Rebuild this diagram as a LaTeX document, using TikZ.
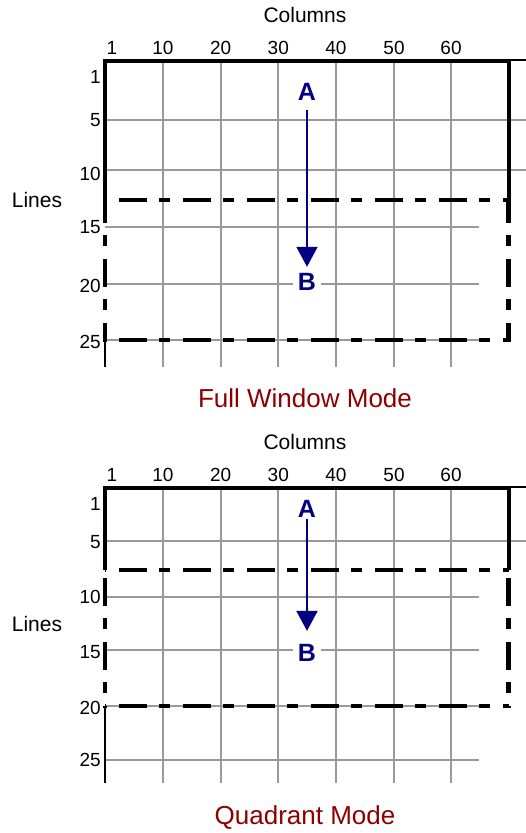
\documentclass[tikz,border=0pt]{standalone}
\usepackage{fontspec}
\setmainfont{Liberation Sans}
\usetikzlibrary{arrows.meta}
\definecolor{gridgray}{RGB}{153,153,153}
\definecolor{navyblue}{RGB}{0,0,128}
\definecolor{titlered}{RGB}{140,0,0}
\begin{document}
\begin{tikzpicture}[x=1pt,y=-1pt,
  gridline/.style={draw=gridgray,line width=2pt},
  winline/.style={draw=black,line width=4pt,line join=miter},
  extline/.style={draw=black,line width=2pt},
  dashline/.style={draw=black,line width=4.5pt,dash pattern=on 28pt off 12pt on 11pt off 13pt},
  axisline/.style={draw=black,line width=2pt},
  numlbl/.style={inner sep=0pt,font=\fontsize{19}{19}\selectfont},
  wordlbl/.style={inner sep=0pt,anchor=base,font=\fontsize{21}{21}\selectfont},
  titlelbl/.style={inner sep=0pt,text=titlered,anchor=base,font=\fontsize{26}{26}\selectfont},
  ptlbl/.style={inner xsep=5pt,inner ysep=0pt,fill=white,text=navyblue,anchor=base,
    text height=18.3pt,text depth=0pt,font=\fontsize{25}{25}\selectfont\bfseries},
  arr/.style={draw=navyblue,line width=2pt,-{Triangle[length=20pt,width=21pt]}}
]
\useasboundingbox (0,0) rectangle (526,833);

% ================= TOP PANEL =================
\foreach \x in {163,220.7,278.3,336,394,451} \draw[gridline] (\x,61) -- (\x,367);
\foreach \y in {120,170} \draw[gridline] (105,\y) -- (526,\y);
\foreach \y in {227,284,340} \draw[gridline] (105,\y) -- (479,\y);
\draw[winline] (105,200) -- (105,61) -- (508.5,61) -- (508.5,200);
\draw[extline] (508.5,60) -- (526,60);
\draw[dashline,dash phase=50pt] (105,200) -- (508.5,200);
\draw[dashline,dash phase=50pt] (105,340) -- (508.5,340);
\draw[dashline,dash phase=5pt] (105,200) -- (105,342);
\draw[dashline,dash phase=5pt] (508.5,200) -- (508.5,342);
\draw[axisline] (105,340) -- (105,367);

\node[wordlbl] (colsT) at (305,22.7) {Columns};
\foreach \x/\t [count=\i] in {112/1,163/10,220.7/20,278.3/30,336/40,394/50,451/60}
  \node[numlbl,anchor=base] (cT\i) at (\x,54) {\t};
\foreach \y/\t [count=\i] in {83.3/1,126/5,180/10,233/15,292/20,348/25}
  \node[numlbl,anchor=base east] (rT\i) at (101,\y) {\t};
\node[wordlbl] (linesT) at (37,207.5) {Lines};
\node[titlelbl] (titleT) at (305,407.3) {Full Window Mode};
\node[ptlbl] (AT) at (307,100) {A};
\node[ptlbl] (BT) at (307,290) {B};
\draw[arr,shorten <=10pt,shorten >=4.7pt] (AT) -- (BT);

% ================= BOTTOM PANEL =================
\foreach \x in {163,220.7,278.3,336,394,451} \draw[gridline] (\x,488) -- (\x,783);
\foreach \y in {541} \draw[gridline] (105,\y) -- (526,\y);
\foreach \y in {597,650,706,760} \draw[gridline] (105,\y) -- (479,\y);
\draw[winline] (105,570) -- (105,488) -- (508.5,488) -- (508.5,570);
\draw[extline] (508.5,487) -- (526,487);
\draw[dashline,dash phase=50pt] (105,570) -- (508.5,570);
\draw[dashline,dash phase=50pt] (105,706) -- (508.5,706);
\draw[dashline,dash phase=56pt] (105,570) -- (105,708);
\draw[dashline,dash phase=56pt] (508.5,570) -- (508.5,708);
\draw[axisline] (105,706) -- (105,783);

\node[wordlbl] (colsB) at (305,449.3) {Columns};
\foreach \x/\t [count=\i] in {112/1,163/10,220.7/20,278.3/30,336/40,394/50,451/60}
  \node[numlbl,anchor=base] (cB\i) at (\x,481.7) {\t};
\foreach \y/\t [count=\i] in {510/1,548.3/5,603.3/10,658.3/15,714.3/20,766.7/25}
  \node[numlbl,anchor=base east] (rB\i) at (101,\y) {\t};
\node[wordlbl] (linesB) at (37,631.7) {Lines};
\node[titlelbl] (titleB) at (305,824) {Quadrant Mode};
\node[ptlbl] (AB) at (307,517) {A};
\node[ptlbl] (BB) at (307,661.7) {B};
\draw[arr,shorten <=2pt,shorten >=12.3pt] (AB) -- (BB);
\end{tikzpicture}
\end{document}
